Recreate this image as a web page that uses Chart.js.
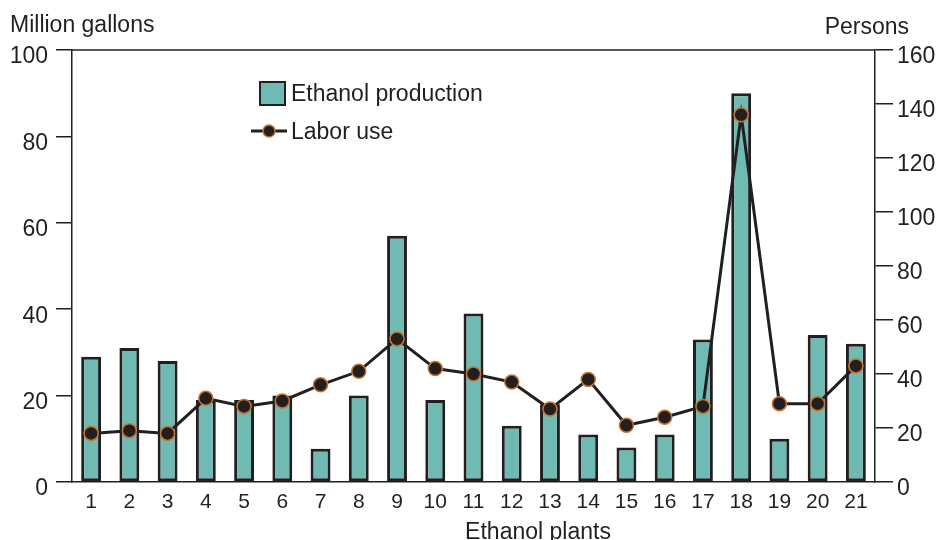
<!DOCTYPE html>
<html>
<head>
<meta charset="utf-8">
<script src="https://cdn.jsdelivr.net/npm/chart.js@4.4.1/dist/chart.umd.min.js"></script>
<style>
  body { margin: 0; background: #fff; }
  canvas { display: block; }
</style>
</head>
<body>
<canvas id="chart" width="938" height="540"></canvas>
<script>
// Plants 1..21
const plants = ["1","2","3","4","5","6","7","8","9","10","11","12","13","14","15","16","17","18","19","20","21"];
// Ethanol production, million gallons (left axis)
const production = [29, 31, 28, 19, 19, 20, 7.7, 20, 57, 19, 39, 13, 18, 11, 8, 11, 33, 90, 10, 34, 32];
// Labor use, persons (right axis)
const labor = [18, 19, 18, 31, 28, 30, 36, 41, 53, 42, 40, 37, 27, 38, 21, 24, 28, 136, 29, 29, 43];

const ink = "#231f20";
const teal = "#6fbab3";
const orange = "#c8742c";
const fontFamily = "'Liberation Sans', Arial, Helvetica, sans-serif";

// axis titles, top frame line and the legend inside the plot
const decorations = {
  id: "decorations",
  afterDraw(chart) {
    const ctx = chart.ctx;
    const area = chart.chartArea;
    ctx.save();
    ctx.strokeStyle = ink;
    ctx.lineWidth = 1.5;
    ctx.beginPath();
    ctx.moveTo(area.left, area.top);
    ctx.lineTo(area.right, area.top);
    ctx.stroke();

    ctx.fillStyle = ink;
    ctx.font = "23px " + fontFamily;
    ctx.textBaseline = "alphabetic";
    ctx.textAlign = "left";
    ctx.fillText("Million gallons", 10, 32);
    ctx.textAlign = "right";
    ctx.fillText("Persons", 909, 34);
    ctx.textAlign = "center";
    ctx.fillText("Ethanol plants", 538, 539);

    // legend
    const bar = chart.data.datasets[1];
    const line = chart.data.datasets[0];
    ctx.fillStyle = bar.backgroundColor;
    ctx.fillRect(260, 82, 25, 23);
    ctx.strokeStyle = ink;
    ctx.lineWidth = 2;
    ctx.strokeRect(260, 82, 25, 23);
    ctx.lineWidth = 3;
    ctx.beginPath();
    ctx.moveTo(251, 131);
    ctx.lineTo(287, 131);
    ctx.stroke();
    ctx.beginPath();
    ctx.arc(269, 131, 6, 0, Math.PI * 2);
    ctx.fillStyle = line.pointBackgroundColor;
    ctx.fill();
    ctx.lineWidth = 1.5;
    ctx.strokeStyle = line.pointBorderColor;
    ctx.stroke();

    ctx.fillStyle = ink;
    ctx.textAlign = "left";
    ctx.textBaseline = "alphabetic";
    ctx.fillText(bar.label, 291, 101);
    ctx.fillText(line.label, 291, 139);
    ctx.restore();
  }
};

new Chart(document.getElementById("chart"), {
  data: {
    labels: plants,
    datasets: [{
      type: "line",
      label: "Labor use",
      data: labor,
      yAxisID: "y1",
      borderColor: ink,
      borderWidth: 3,
      pointRadius: 7,
      pointBackgroundColor: ink,
      pointBorderColor: orange,
      pointBorderWidth: 1.5,
      tension: 0,
      order: 0
    }, {
      type: "bar",
      label: "Ethanol production",
      data: production,
      yAxisID: "y",
      backgroundColor: teal,
      borderColor: ink,
      borderWidth: 3,
      borderSkipped: false,
      barPercentage: 0.52,
      categoryPercentage: 1.0,
      order: 1
    }]
  },
  options: {
    responsive: false,
    animation: false,
    layout: { padding: { top: 50, left: 0, right: 0, bottom: 0 } },
    plugins: {
      legend: { display: false },
      tooltip: { enabled: false }
    },
    scales: {
      x: {
        type: "category",
        offset: true,
        grid: { display: false, drawTicks: false },
        border: { display: true, color: ink, width: 1.5 },
        ticks: {
          color: ink,
          padding: 8,
          maxRotation: 0,
          autoSkip: false,
          font: { family: fontFamily, size: 21 }
        },
        afterFit(scale) { scale.height = 58; }
      },
      y: {
        position: "left",
        min: 0,
        max: 100,
        ticks: {
          stepSize: 20,
          color: ink,
          padding: 8,
          labelOffset: 7,
          font: { family: fontFamily, size: 23 }
        },
        grid: { drawOnChartArea: false, drawTicks: true, tickLength: 16, color: ink, lineWidth: 1.5 },
        border: { display: true, color: ink, width: 1.5 },
        afterFit(scale) { scale.width = 72; }
      },
      y1: {
        position: "right",
        min: 0,
        max: 160,
        ticks: {
          stepSize: 20,
          color: ink,
          padding: 4,
          labelOffset: 7,
          font: { family: fontFamily, size: 23 }
        },
        grid: { drawOnChartArea: false, drawTicks: true, tickLength: 18, color: ink, lineWidth: 1.5 },
        border: { display: true, color: ink, width: 1.5 },
        afterFit(scale) { scale.width = 63; }
      }
    }
  },
  plugins: [decorations]
});
</script>
</body>
</html>
